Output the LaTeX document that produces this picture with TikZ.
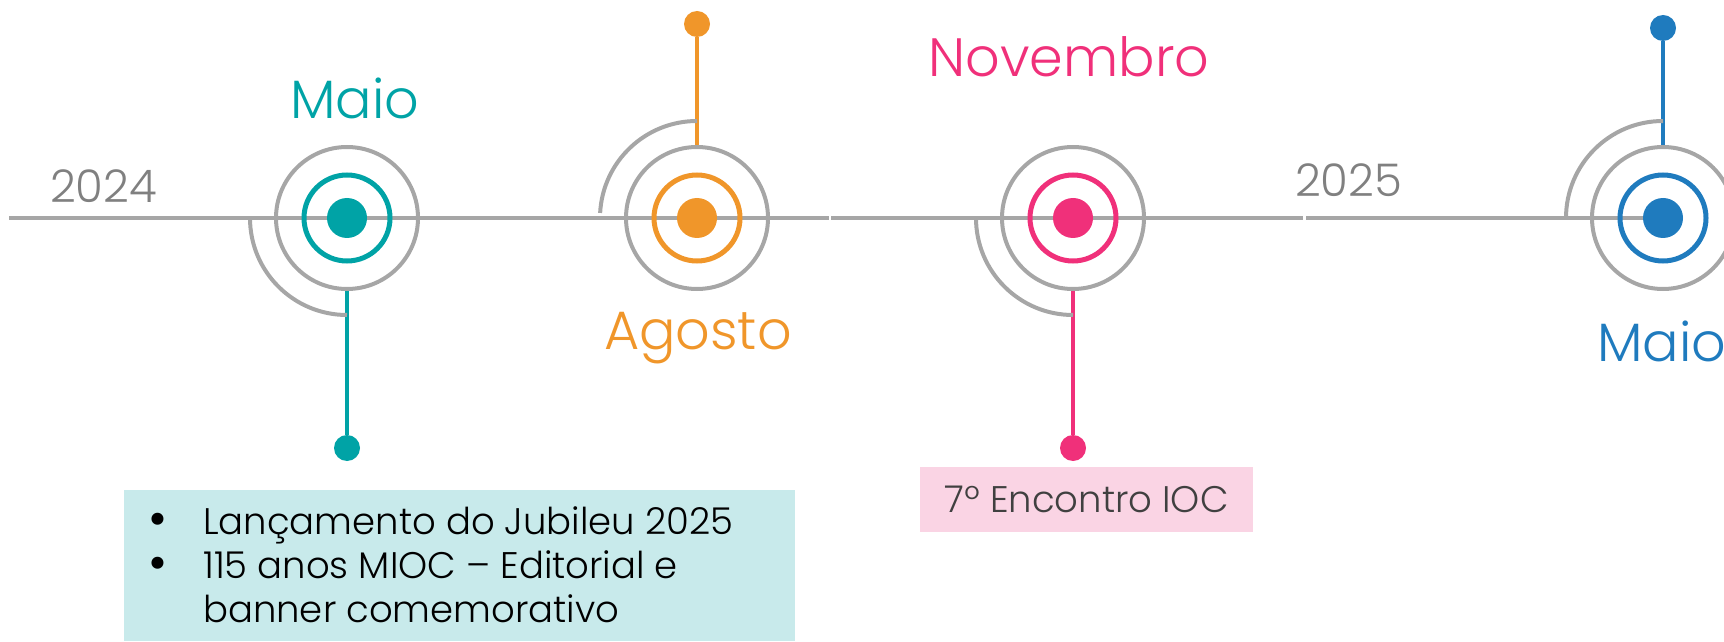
\documentclass[tikz,border=0pt]{standalone}
\usepackage{fontspec}
\setmainfont{Poppins}[UprightFont=* Light]
\usepackage{graphicx}
\usepackage{tikz}
\pgfdeclarelayer{background}
\pgfsetlayers{background,main}
\usetikzlibrary{positioning}
\definecolor{tealc}{HTML}{00A3A6}
\definecolor{orangec}{HTML}{F0962A}
\definecolor{pinkc}{HTML}{F0307A}
\definecolor{bluec}{HTML}{1F7BBE}
\definecolor{railgray}{HTML}{A6A6A6}
\definecolor{yeargray}{HTML}{808080}
\definecolor{tealbg}{HTML}{C8EAEB}
\definecolor{pinkbg}{HTML}{FAD4E4}
\definecolor{notegray}{HTML}{404040}
\tikzset{
  rail/.style={draw=railgray,line width=4pt},
  month/.style={anchor=base,inner sep=0pt,font=\fontsize{54}{60}\selectfont},
  year/.style={anchor=base west,inner sep=0pt,text=yeargray,font=\fontsize{45}{50}\selectfont},
  notebox/.style={inner sep=0pt,outer sep=0pt},
  notetext/.style={font=\fontsize{37}{44}\selectfont}
}
\newcommand{\Milestone}[3]% pos, name, colour
{\node[circle,fill=#3,minimum size=40pt,inner sep=0pt] (#2) at (#1) {};
  \node[circle,draw=#3,line width=5pt,minimum size=86pt,inner sep=0pt] (#2-in) at (#1) {};
  \node[circle,draw=railgray,line width=4pt,minimum size=142pt,inner sep=0pt] (#2-out) at (#1) {};
}
\newcommand{\Pin}[3]% pos, name, colour
{\node[circle,fill=#3,minimum size=26pt,inner sep=0pt] (#2) at (#1) {};}
\newcommand{\Stem}[3]% from, to, colour
{ \begin{pgfonlayer}{background}
    \draw[#3,line width=4pt] (#1) -- (#2);
  \end{pgfonlayer}}
\newcommand{\Quarter}[3]% centre, start angle, end angle
{\draw[rail] ([shift={(#2:97pt)}]#1.center) arc[start angle=#2,end angle=#3,radius=97pt];}
\newcommand{\Dot}{\smash{\raisebox{-2pt}{\scalebox{1.4}{\textbullet}}}}

\begin{document}
\begin{tikzpicture}[x=1pt,y=1pt]
      \useasboundingbox (0,0) rectangle (1724,641);
      \clip (0,0) rectangle (1724,641);
      % milestones
      \Milestone{347,423}{mai24}{tealc}
      \Milestone{697,423}{ago24}{orangec}
      \Milestone{1073,423}{nov24}{pinkc}
      \Milestone{1663,423}{mai25}{bluec}
      \Pin{347,193}{mai24-pin}{tealc}
      \Pin{697,617}{ago24-pin}{orangec}
      \Pin{1073,193}{nov24-pin}{pinkc}
      \Pin{1663,613}{mai25-pin}{bluec}
      \Stem{mai24-out.south}{mai24-pin}{tealc}
      \Stem{ago24-out.north}{ago24-pin}{orangec}
      \Stem{nov24-out.south}{nov24-pin}{pinkc}
      \Stem{mai25-out.north}{mai25-pin}{bluec}
      \Quarter{mai24}{180}{270}
      \Quarter{ago24}{90}{177}
      \Quarter{nov24}{180}{270}
      \Quarter{mai25}{90}{180}
      % rail
      \coordinate (railstart) at (9,423);
      \coordinate (cutA) at (829,423);
      \coordinate (cutB) at (831,423);
      \coordinate (cutC) at (1303,423);
      \coordinate (cutD) at (1306,423);
      \begin{pgfonlayer}{background}
        \draw[rail] (railstart) -- (cutA);
        \draw[rail] (cutB) -- (cutC);
        \draw[rail] (cutD) -- (mai25.center);
      \end{pgfonlayer}
      % labels
      \node[year] (y2024) at (50,438) {2024};
      \node[year] (y2025) at (1295,444) {2025};
      \node[month,text=tealc] (lblmai24) at (355,522) {Maio};
      \node[month,text=orangec] (lblago24) at (698,292) {Agosto};
      \node[month,text=pinkc] (lblnov24) at (1069,564) {Novembro};
      \node[month,text=bluec,anchor=base west] (lblmai25) at (1597,280) {Maio};
      % notes
      \node[notebox,fill=tealbg,minimum width=671pt,minimum height=151pt,anchor=south west] (jubileu) at (124,0) {};
      \node[notetext,anchor=base west,inner sep=0pt] (jubileu-txt) at (148,107)
        {\begin{tabular}[t]{@{}p{55pt}@{}l@{}}
          \Dot & Lançamento do Jubileu 2025\\
          \Dot & 115 anos MIOC -- Editorial e\\
               & banner comemorativo
        \end{tabular}};
      \node[notebox,notetext,fill=pinkbg,text=notegray,minimum width=333pt,minimum height=65pt] (ioc) at (1086.5,141.5) {7º Encontro IOC};
    \end{tikzpicture}
\end{document}
